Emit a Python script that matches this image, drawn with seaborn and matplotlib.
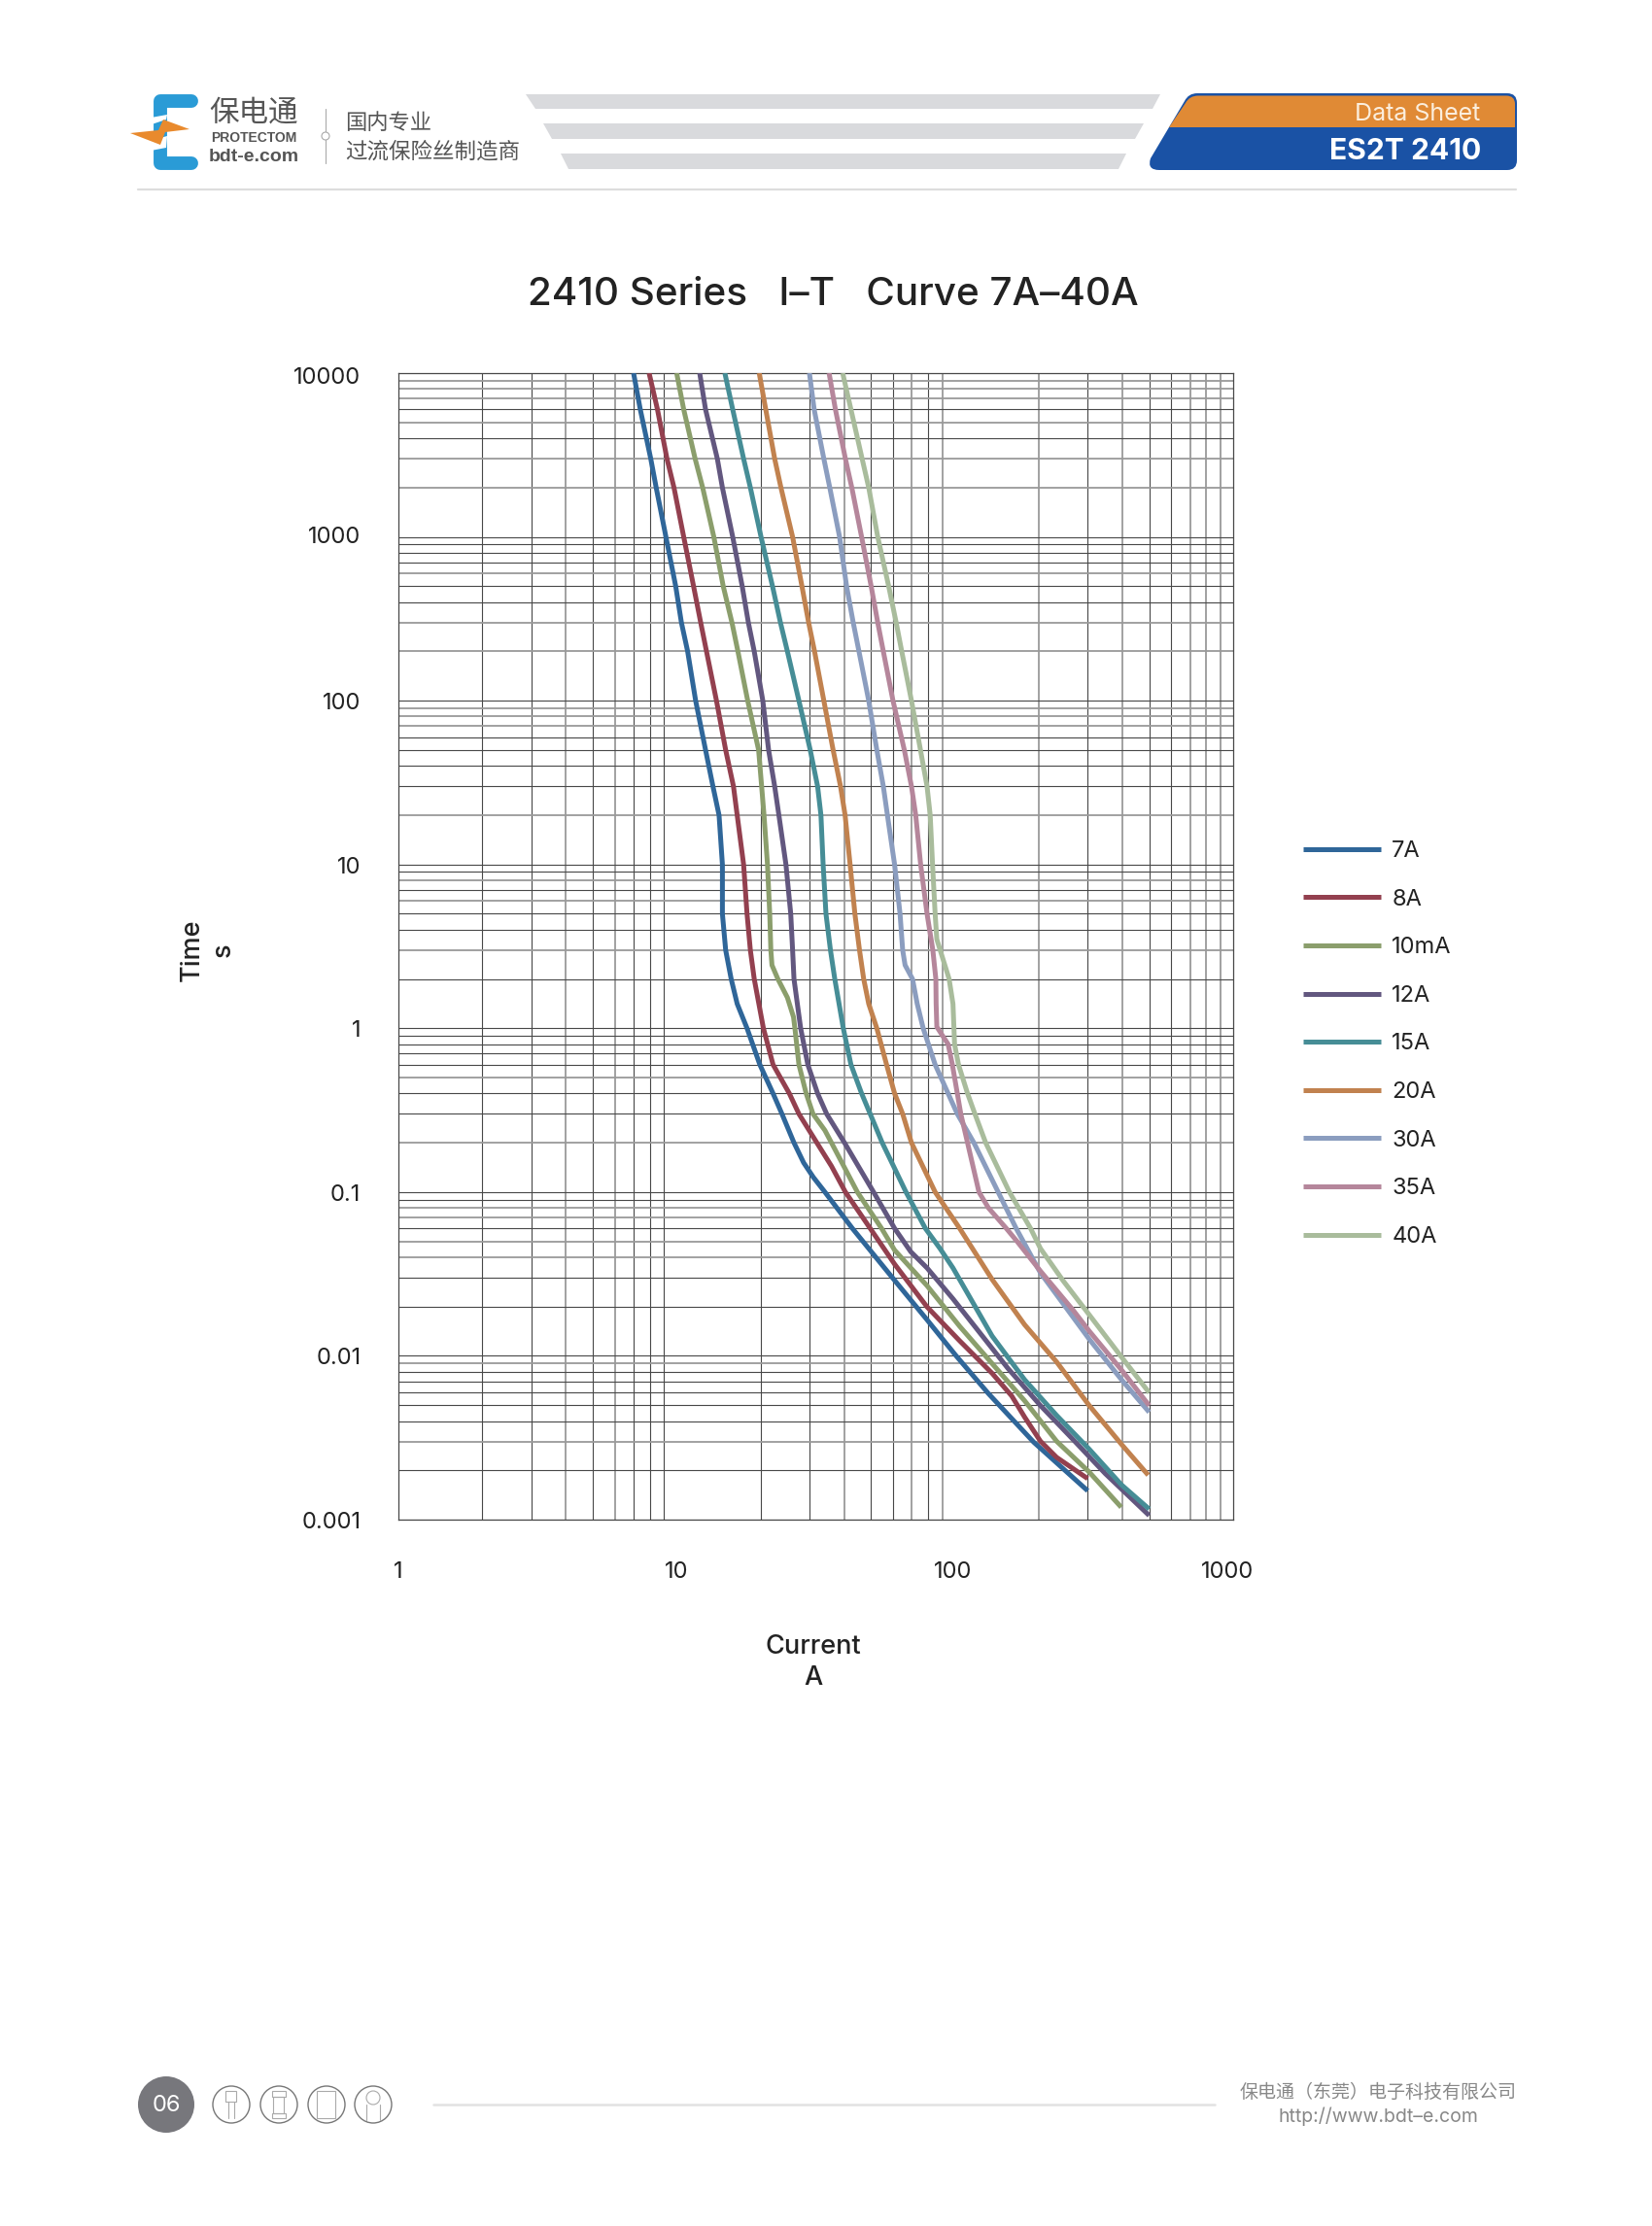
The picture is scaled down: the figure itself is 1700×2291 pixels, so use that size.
import numpy as np
import pandas as pd
import matplotlib
matplotlib.use("Agg")
import matplotlib.pyplot as plt
from matplotlib.patches import PathPatch, Polygon, Circle, Rectangle
from matplotlib.path import Path
from matplotlib.transforms import ScaledTranslation
import seaborn as sns

# ---------- data: (current in A, time in s) ----------
i7 = [7.00,7.40,8.07,8.44,9.15,9.92,10.4,10.95,11.7,12.7,13.5,14.2,14.6,14.6,15.0,15.7,16.5,17.9,19.9,22.2,23.9,26.4,28.6,31.0,34.1,42.8,60.7,79.4,101,132,192,300]
t7 = [10000,6000,3000,2000,1000,500,300,200,100,50,30,20,10,5,3,2,1.41,1,.6,.4,.3,.2,.151,.123,.1,.06,.0289,.0166,.01,.00588,.00297,.0015]
i8 = [7.96,8.53,9.23,9.78,10.6,11.5,12.2,12.8,13.9,15.0,16.0,16.5,17.4,17.9,18.4,19.0,20.5,22.2,25.4,27.5,31.9,36.0,40.4,49.6,60.7,79.4,104,136,160,178,203,232,300]
t8 = [10000,6000,3000,2000,1000,500,300,200,100,50,30,20,10,5,3,2,1,.6,.4,.3,.2,.144,.1,.06,.0363,.0199,.01235,.00783,.00569,.00423,.00301,.0024,.00178]
i10 = [10.0,10.6,11.65,12.4,13.6,14.7,15.8,16.6,18.0,19.7,20.2,20.6,21.2,21.6,21.8,22.0,23.1,25.0,26.3,26.6,27.5,29.2,30.9,34.1,36.0,44.6,54.5,60.7,79.4,104,136,178,232,304,396]
t10 = [10000,6000,3000,2000,1000,500,300,200,100,50,30,20,10,5,3,2.43,2,1.54,1.17,1,.6,.4,.3,.238,.2,.1,.06,.0442,.0268,.01515,.00898,.00532,.00301,.00195,.00119]
i12 = [12.1,12.7,14.0,14.6,15.9,17.2,18.1,19.0,20.4,21.4,22.5,23.3,24.7,25.7,26.1,26.4,27.9,29.6,32.1,34.6,40.1,51.0,60.7,69.4,79.4,98.4,119,155,203,266,347,499]
t12 = [10000,6000,3000,2000,1000,500,300,200,100,50,30,20,10,5,3,2,1,.6,.4,.3,.2,.1,.06,.0432,.0344,.0223,.01482,.00839,.00497,.00308,.00191,.00106]
i15 = [14.9,15.9,17.4,18.4,20.1,22.1,23.6,25.0,27.5,30.2,32.1,33.0,33.6,34.4,35.7,37.0,39.7,42.3,46.2,49.6,54.8,66.7,78.3,88.4,98.4,136,178,232,304,397,499]
t15 = [10000,6000,3000,2000,1000,500,300,200,100,50,30,20,10,5,3,2,1,.6,.4,.3,.2,.1,.06,.0452,.0344,.01322,.00715,.00433,.00269,.00163,.00116]
i20 = [19.8,20.9,22.5,23.7,26.1,28.2,29.8,31.3,33.8,36.5,38.8,40.3,42.0,43.7,45.4,47.0,49.0,52.4,56.8,60.7,64.9,69.8,84.9,104,136,178,232,304,397,495]
t20 = [10000,6000,3000,2000,1000,500,300,200,100,50,30,20,10,5,3,2,1.41,1,.6,.4,.3,.2,.1,.06,.0293,.0155,.00918,.00497,.00288,.00187]
i30 = [30.0,31.2,33.8,35.5,38.5,40.8,43.1,45.2,49.0,52.4,55.3,57.2,60.7,63.5,64.9,66.2,70.4,73.2,76.9,84.9,94.5,102,117,143,166,203,245,304,397,499]
t30 = [10000,6000,3000,2000,1000,500,300,200,100,50,30,20,10,5,3,2.43,2,1.41,1,.6,.4,.3,.2,.1,.06,.0321,.0208,.01263,.00715,.00453]
i35 = [35.3,37.2,40.4,42.6,46.2,50.0,52.8,55.3,59.9,65.8,69.8,72.3,75.3,79.4,83.3,85.4,85.6,86.1,90.3,94.5,97.9,102,105,111,122,132,153,168,203,266,304,397,499]
t35 = [10000,6000,3000,2000,1000,500,300,200,100,50,30,20,10,5,3,2,1.41,1.02,.9,.8,.6,.4,.3,.2,.1,.08,.06,.0495,.0329,.019,.01415,.0082,.00497]
i40 = [39.5,42.3,46.4,49.0,52.8,57.8,61.5,64.4,69.8,75.2,79.4,81.5,83.1,84.9,86.1,92.0,95.3,98.4,99.2,99.7,103,111,118,129,157,187,203,245,304,397,499]
t40 = [10000,6000,3000,2000,1000,500,300,200,100,50,30,20,10,5,3.49,2.43,2,1.41,1,.8,.6,.4,.3,.2,.1,.06,.0452,.0287,.0178,.00983,.00596]

series_names = ["7A", "8A", "10mA", "12A", "15A", "20A", "30A", "35A", "40A"]
series_currents = [i7, i8, i10, i12, i15, i20, i30, i35, i40]
series_times = [t7, t8, t10, t12, t15, t20, t30, t35, t40]
series_colors = ["#2f6699", "#93404f", "#8b9e6c", "#62577f", "#468d96",
                 "#c1824f", "#8b9dbf", "#b5869b", "#a9bc9c"]

x_major = [1, 10, 100, 1000]
y_major = [0.001, 0.01, 0.1, 1, 10, 100, 1000, 10000]
x_major_labels = ["1", "10", "100", "1000"]
y_major_labels = ["0.001", "0.01", "0.1", "1", "10", "100", "1000", "10000"]

# gridlines that render light and heavy in the reference
x_light = [4, 6, 40, 70, 90, 200, 400, 700, 800, 900]
y_light = [9000, 8000, 7000, 5000, 3000, 2000, 600, 300, 200, 90, 80, 70, 20,
           8, 6, 3, 0.5, 0.2, 0.08, 0.07, 0.05, 0.04, 0.009, 0.003]

title_text = "2410 Series   I\u2013T   Curve 7A\u201340A"

# ---------- theme ----------
sns.set_theme(style="white")
plt.rcParams["font.family"] = ["Inter", "Noto Sans CJK SC", "DejaVu Sans"]
TXT = "#222222"

fig = plt.figure(figsize=(17, 22.91), dpi=100, facecolor="white")
W, H = 1700, 2291

# page decoration in page pixels
deco = fig.add_axes([0, 0, 1, 1], zorder=0)
deco.set_xlim(0, W)
deco.set_ylim(H, 0)
deco.axis("off")


def poly(pts, color, z=1):
    deco.add_patch(Polygon(pts, closed=True, facecolor=color, edgecolor="none", zorder=z))


# logo
logo_blue = "#2a9bd6"
deco.plot([197, 165, 165, 197], [104, 104, 167.5, 167.5], color=logo_blue, lw=10,
          solid_capstyle="round", solid_joinstyle="round", zorder=1)
poly([(150, 122), (172, 118), (171, 123), (150, 130)], "white", 2)
poly([(150, 146), (172, 140), (171, 152), (150, 156)], "white", 2)
poly([(134, 137), (163, 134), (168, 123), (195, 133), (170, 136), (165, 149)], "#e98a2d", 3)
deco.text(261, 117, "\u4fdd\u7535\u901a", fontsize=22, color="#555555", ha="center", va="center")
deco.text(261, 142, "PROTECTOM", fontsize=10, fontweight="bold", family="Liberation Sans",
          color="#555555", ha="center", va="center")
deco.text(261, 161, "bdt-e.com", fontsize=14, fontweight="bold", family="Liberation Sans",
          color="#555555", ha="center", va="center")
deco.plot([335, 335], [112, 168], color="#aaaaaa", lw=0.8)
deco.add_patch(Circle((335, 140), 4, facecolor="white", edgecolor="#aaaaaa", lw=0.8, zorder=3))
deco.text(355, 127, "\u56fd\u5185\u4e13\u4e1a", fontsize=16, color="#555555", ha="left", va="center")
deco.text(355, 157, "\u8fc7\u6d41\u4fdd\u9669\u4e1d\u5236\u9020\u5546", fontsize=16.2, color="#555555",
          ha="left", va="center")

# header stripes
stripe = "#d9dadd"
poly([(541, 97), (1194, 97), (1186, 112), (551, 112)], stripe)
poly([(559, 127), (1177, 127), (1168, 143), (568, 143)], stripe)
poly([(577, 158), (1159, 158), (1151, 174), (585, 174)], stripe)

# badge
M, L, C = Path.MOVETO, Path.LINETO, Path.CURVE3
blue_pts = [(1232, 96), (1551, 96), (1561, 96), (1561, 106), (1561, 165), (1561, 175), (1551, 175),
            (1193, 175), (1180, 175), (1184, 163), (1219, 104), (1223, 96), (1232, 96)]
blue_cd = [M, L, C, C, L, C, C, L, C, C, L, C, C]
deco.add_patch(PathPatch(Path(blue_pts, blue_cd), facecolor="#1a52a5", edgecolor="none", zorder=1))
or_pts = [(1233, 98.5), (1550, 98.5), (1559, 98.5), (1559, 107), (1559, 131), (1203, 131),
          (1220, 106), (1224, 98.5), (1233, 98.5)]
or_cd = [M, L, C, C, L, L, L, C, C]
deco.add_patch(PathPatch(Path(or_pts, or_cd), facecolor="#e08a35", edgecolor="none", zorder=2))
deco.text(1523, 117.5, "Data Sheet", fontsize=18, color="#fbeedd", ha="right", va="center", zorder=3)
deco.text(1524, 156, "ES2T 2410", fontsize=21.6, fontweight="bold", color="white", ha="right",
          va="center", zorder=3)
deco.plot([142, 1560], [195, 195], color="#dddddd", lw=1.6)

# title
deco.text(857, 303, title_text, fontsize=29.1, color=TXT, ha="center", va="center", fontweight="medium")

# footer
deco.add_patch(Circle((171, 2166), 29, facecolor="#77777c", edgecolor="none"))
deco.text(171, 2167, "06", color="white", fontsize=17, ha="center", va="center")
for cx in [238, 287, 336, 384]:
    deco.add_patch(Circle((cx, 2166), 19, facecolor="white", edgecolor="#777777", lw=1))
ic = dict(color="#aaaaaa", lw=0.8)
deco.add_patch(Rectangle((232.5, 2152), 11, 11, facecolor="none", edgecolor="#aaaaaa", lw=0.8))
deco.plot([235, 235], [2163, 2180], **ic)
deco.plot([241, 241], [2163, 2180], **ic)
deco.add_patch(Rectangle((281.5, 2158), 11, 17, facecolor="none", edgecolor="#aaaaaa", lw=0.8))
deco.add_patch(Rectangle((280, 2152), 14, 6, facecolor="none", edgecolor="#aaaaaa", lw=0.8))
deco.add_patch(Rectangle((280, 2175), 14, 5, facecolor="none", edgecolor="#aaaaaa", lw=0.8))
deco.add_patch(Rectangle((326, 2152), 19, 28, facecolor="none", edgecolor="#aaaaaa", lw=0.8))
deco.add_patch(Circle((384, 2159), 7, facecolor="none", edgecolor="#aaaaaa", lw=0.8))
deco.plot([377, 377], [2166, 2182], **ic)
deco.plot([391, 391], [2166, 2182], **ic)
deco.plot([446, 1250], [2166, 2166], color="#e2e2e2", lw=1.8)
deco.text(1418, 2154, "\u4fdd\u7535\u901a\uff08\u4e1c\u839e\uff09\u7535\u5b50\u79d1\u6280\u6709\u9650\u516c\u53f8",
          fontsize=13.7, color="#888888", ha="center", va="center")
deco.text(1418, 2178, "http://www.bdt\u2013e.com", fontsize=14, color="#888888", ha="center", va="center")

# ---------- chart ----------
left, right, top, bottom = 410, 1269, 384, 1564
ax = fig.add_axes([left / W, 1 - bottom / H, (right - left) / W, (bottom - top) / H], zorder=2)
ax.patch.set_alpha(0)
ax.set_xscale("log")
ax.set_yscale("log")
ax.set_xlim(1, 1000)
ax.set_ylim(0.001, 10000)

for dec in [1, 10, 100]:
    for m in range(2, 10):
        v = dec * m
        light = v in x_light
        ax.axvline(v, color="#9a9a9a" if light else "#484848", lw=1.3 if light else 0.8, zorder=1)
for dec in [0.001, 0.01, 0.1, 1, 10, 100, 1000]:
    for m in range(1, 10):
        v = round(dec * m, 3)
        light = v in y_light
        ax.axhline(v, color="#9a9a9a" if light else "#484848", lw=1.3 if light else 0.8, zorder=1)

frames = [pd.DataFrame({"Current": c, "Time": t, "Series": n})
          for n, c, t in zip(series_names, series_currents, series_times)]
df = pd.concat(frames, ignore_index=True)
sns.lineplot(data=df, x="Current", y="Time", hue="Series", hue_order=series_names,
             palette=series_colors, estimator=None, sort=False, lw=3.6, ax=ax, zorder=3,
             solid_joinstyle="round", solid_capstyle="butt")

ax.set_xticks(x_major, x_major_labels)
ax.set_yticks(y_major, y_major_labels)
ax.minorticks_off()
ax.tick_params(axis="x", which="major", length=0, pad=31, labelsize=17, labelcolor=TXT)
ax.tick_params(axis="y", which="major", length=10.8, width=0.8, color="#484848", pad=17,
               labelsize=17, labelcolor=TXT)
y_shift = {"10000": -1.5, "1000": 1.8}
for lab in ax.get_yticklabels():
    dy = y_shift.get(lab.get_text(), -0.4)
    lab.set_transform(lab.get_transform() + ScaledTranslation(0, dy / 72, fig.dpi_scale_trans))
x_shift = {"1000": -4.5, "100": -1.2}
for lab in ax.get_xticklabels():
    dx = x_shift.get(lab.get_text(), 0)
    lab.set_transform(lab.get_transform() + ScaledTranslation(dx / 72, 0, fig.dpi_scale_trans))
for s in ax.spines.values():
    s.set_visible(True)
    s.set_color("#484848")
    s.set_linewidth(0.9)

ax.set_xlabel("Current\nA", fontsize=19.5, color=TXT, fontweight="medium", linespacing=1.32)
ax.xaxis.set_label_coords((837 - left) / (right - left), -(1682 - bottom) / (bottom - top),
                          transform=ax.transAxes)
ax.xaxis.label.set_va("top")
ax.set_ylabel("Time\ns", fontsize=19.5, color=TXT, fontweight="medium", linespacing=1.3)
ax.yaxis.label.set_va("center")
ax.yaxis.set_label_coords(-(left - 214) / (right - left), (bottom - 978) / (bottom - top),
                          transform=ax.transAxes)

handles, labels = ax.get_legend_handles_labels()
leg = ax.legend(handles, labels, loc="upper left", bbox_to_anchor=(1341, 865),
                bbox_transform=deco.transData, frameon=False, fontsize=17, labelcolor=TXT,
                handlelength=3.39, handletextpad=0.47, labelspacing=1.17, borderpad=0, borderaxespad=0)
for h in leg.get_lines():
    h.set_linewidth(3.6)

fig.savefig("out.png", dpi=100, facecolor="white")
